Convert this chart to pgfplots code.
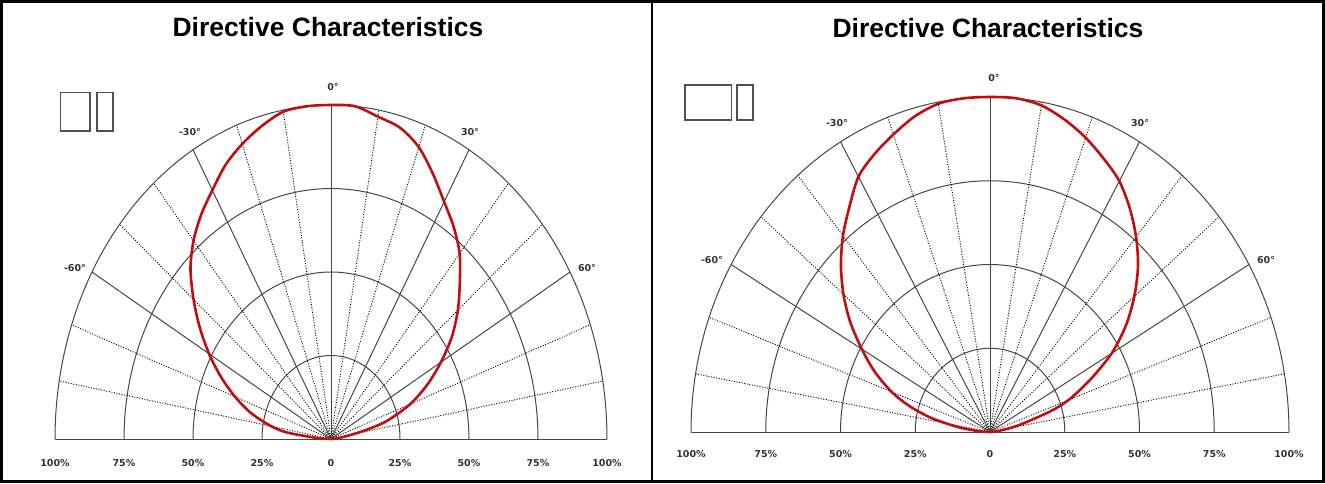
\documentclass[border=0pt]{standalone}
\usepackage{pgfplots}
\pgfplotsset{compat=1.18}
\usepackage{pgfplotstable}
\usepackage{fontspec}
\setmainfont{Liberation Sans}
\newfontfamily\lblfont{DejaVu Sans}

\definecolor{curvered}{RGB}{190,16,16}
\definecolor{gridc}{RGB}{70,70,70}
\definecolor{boxc}{RGB}{80,80,80}

% angle (deg from vertical), relative intensity (%)
\pgfplotstableread{
a r
-90 0
-86 6
-83 16
-80 22
-75 30
-70 37
-65 44
-60 51
-55 58
-50 65
-45 72
-40 77.5
-35 82
-30 86
-25 90.5
-20 94
-15 97
-10 99.5
-5 100
0 100
5 100
10 98
15 96.5
20 93
25 87.5
30 82
35 77.5
40 72.5
45 66
50 60
55 53.5
60 46
65 38.5
70 30.5
75 21
78 13
81 6
85 2
90 0
}\leftdata

\pgfplotstableread{
a r
-90 0
-86 4
-82 11
-78 20
-74 28
-70 35
-65 42.5
-60 49.5
-55 57
-50 64
-45 70.5
-40 76.5
-35 82
-30 88
-25 91.5
-20 94.5
-15 97.5
-10 99.5
-5 100
0 100
5 100
10 99
15 96.5
20 93.5
25 90
30 86.5
35 81.5
40 76
45 70
50 63
55 55.5
60 47
65 37
70 28
73 21
78 10
82 4
86 1
90 0
}\rightdata

\pgfplotsset{
  polargrid/.style={
    axis lines=none, xmin=-100, xmax=100, ymin=0, ymax=100, clip=false,
  },
}

\newcommand{\polargrid}{%
  \pgfplotsinvokeforeach{25,50,75,100}{%
    \draw[gridc, line width=1pt] plot[domain=-90:90, samples=121] ({##1*sin(\x)},{##1*cos(\x)});}
  \pgfplotsinvokeforeach{-80,-70,-50,-40,-20,-10,10,20,40,50,70,80}{%
    \draw[black, line width=0.9pt, dash pattern=on 1pt off 1.6pt] (0,0) -- ({100*sin(##1)},{100*cos(##1)});}
  \pgfplotsinvokeforeach{-60,-30,0,30,60}{%
    \draw[gridc, line width=1pt] (0,0) -- ({100*sin(##1)},{100*cos(##1)});}
  \draw[gridc, line width=1pt] (-100,0) -- (100,0);
}

\begin{document}
\begin{tikzpicture}
\useasboundingbox (0pt,0pt) rectangle (1325pt,-483pt);
% frames
\draw[line width=3pt] (1.5pt,-1.5pt) rectangle (1323.5pt,-481.5pt);
\draw[line width=2.5pt] (652pt,-1.5pt) -- (652pt,-481.5pt);

% titles
\node[font=\fontsize{26.5}{30}\selectfont\bfseries] at (328pt,-27pt) {Directive Characteristics};
\node[font=\fontsize{26.5}{30}\selectfont\bfseries] at (988pt,-28pt) {Directive Characteristics};

% boxes
\draw[boxc, line width=1.3pt] (60.5pt,-92.5pt) rectangle (90pt,-131pt);
\draw[boxc, line width=1.3pt] (97pt,-92.5pt) rectangle (113pt,-131pt);
\draw[boxc, line width=1.3pt] (685pt,-85pt) rectangle (731.5pt,-120pt);
\draw[boxc, line width=1.3pt] (737pt,-85pt) rectangle (753pt,-120pt);

% left polar chart
\begin{axis}[polargrid, at={(55pt,-439pt)}, anchor=south west, x=2.76pt, y=3.34pt]
\polargrid
\addplot[curvered, line width=2.6pt, smooth, tension=0.5]
  table[x expr={\thisrow{r}*sin(\thisrow{a})}, y expr={\thisrow{r}*cos(\thisrow{a})}] {\leftdata};
\end{axis}

% right polar chart
\begin{axis}[polargrid, at={(691pt,-432pt)}, anchor=south west, x=2.99pt, y=3.35pt]
\polargrid
\addplot[curvered, line width=2.6pt, smooth, tension=0.5]
  table[x expr={\thisrow{r}*sin(\thisrow{a})}, y expr={\thisrow{r}*cos(\thisrow{a})}] {\rightdata};
\end{axis}

% labels
\begin{scope}[every node/.style={font=\lblfont\fontsize{9.5}{12}\selectfont\bfseries, text=black!80}]
\node at (333pt,-87pt) {0°};
\node at (190pt,-132pt) {-30°};
\node at (470pt,-132pt) {30°};
\node at (75pt,-268pt) {-60°};
\node at (587pt,-268pt) {60°};
\foreach \xx/\tt in {55/100\%,124/75\%,193/50\%,262/25\%,331/0,400/25\%,469/50\%,538/75\%,607/100\%}
  \node at (\xx pt,-463pt) {\tt};
\node at (994pt,-78pt) {0°};
\node at (837pt,-123pt) {-30°};
\node at (1140pt,-123pt) {30°};
\node at (712pt,-260pt) {-60°};
\node at (1266pt,-260pt) {60°};
\foreach \xx/\tt in {691/100\%,765.75/75\%,840.5/50\%,915.25/25\%,990/0,1064.75/25\%,1139.5/50\%,1214.25/75\%,1289/100\%}
  \node at (\xx pt,-454pt) {\tt};
\end{scope}
\end{tikzpicture}
\end{document}
